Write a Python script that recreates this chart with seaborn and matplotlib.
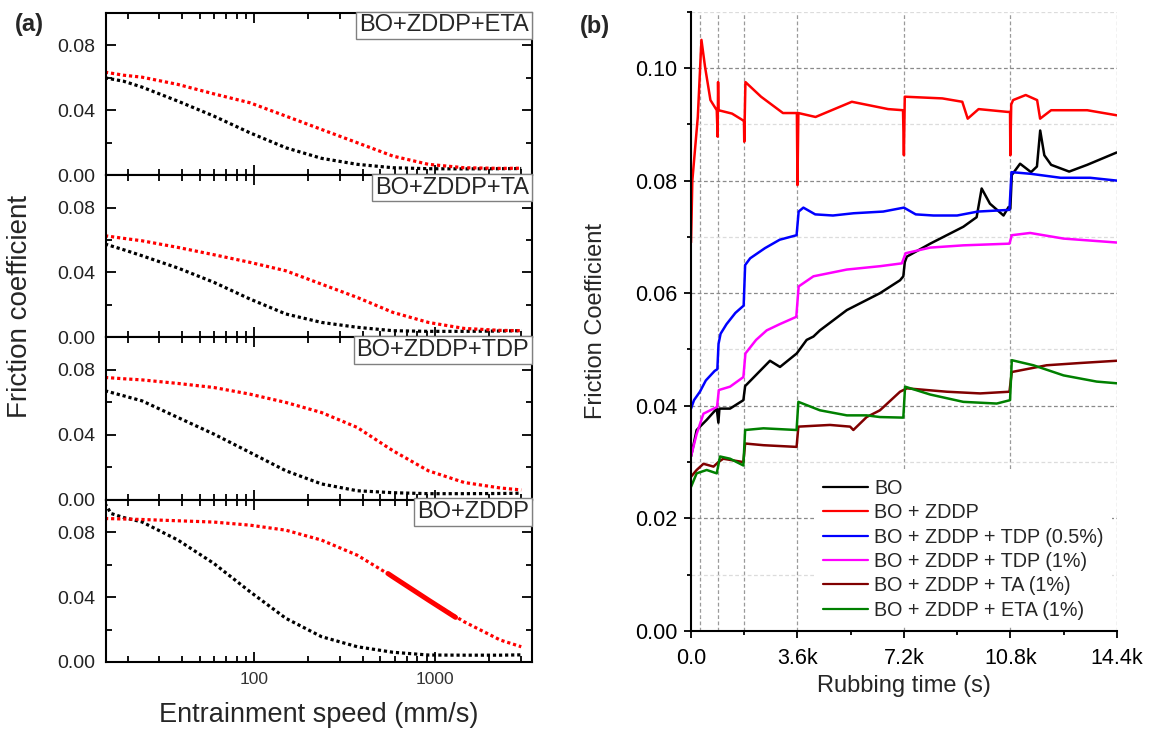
import matplotlib
matplotlib.use("Agg")
import matplotlib.pyplot as plt
import seaborn as sns
from matplotlib.ticker import FixedLocator, NullFormatter, FixedFormatter

# ---------------- data: panel (a) Stribeck curves ----------------
speed = [15, 19, 24, 38, 60, 95, 150, 236, 372, 585, 920, 1450, 2300, 3000]
panel_names = ["BO+ZDDP+ETA", "BO+ZDDP+TA", "BO+ZDDP+TDP", "BO+ZDDP"]

eta_black = [0.0599, 0.0578, 0.0542, 0.0455, 0.0363, 0.0260, 0.0168, 0.0103, 0.0066, 0.0045, 0.0039, 0.0038, 0.0039, 0.0040]
eta_red = [0.0634, 0.0615, 0.0603, 0.0558, 0.0500, 0.0445, 0.0363, 0.0281, 0.0199, 0.0117, 0.0066, 0.0045, 0.0041, 0.0042]
ta_black = [0.0575, 0.0540, 0.0503, 0.0427, 0.0339, 0.0236, 0.0144, 0.0092, 0.0062, 0.0041, 0.0037, 0.0037, 0.0039, 0.0041]
ta_red = [0.0626, 0.0610, 0.0595, 0.0554, 0.0509, 0.0462, 0.0410, 0.0328, 0.0246, 0.0154, 0.0092, 0.0055, 0.0043, 0.0041]
tdp_black = [0.0671, 0.0640, 0.0609, 0.0506, 0.0404, 0.0291, 0.0178, 0.0097, 0.0055, 0.0043, 0.0037, 0.0037, 0.0038, 0.0040]
tdp_red = [0.0753, 0.0745, 0.0738, 0.0716, 0.0691, 0.0650, 0.0599, 0.0537, 0.0445, 0.0302, 0.0178, 0.0106, 0.0072, 0.0060]
zddp_speed_black = [15, 16.2, 19, 24, 38, 60, 95, 150, 236, 372, 585, 920, 1450, 2300, 3000]
zddp_black = [0.0977, 0.0915, 0.0890, 0.0863, 0.0751, 0.0607, 0.0433, 0.0269, 0.0156, 0.0094, 0.0060, 0.0043, 0.0042, 0.0042, 0.0044]
zddp_red = [0.0884, 0.0881, 0.0878, 0.0870, 0.0862, 0.0843, 0.0812, 0.0751, 0.0658, 0.0525, 0.0382, 0.0248, 0.0135, 0.0094]
# densely sampled stretch of the BO+ZDDP red curve (drawn heavier in the source)
zddp_red_dense_speed = [550, 585, 920, 1300]
zddp_red_dense = [0.0545, 0.0525, 0.0382, 0.0275]

# ---------------- data: panel (b) friction vs rubbing time ----------------
stage_times = [300, 900, 1800, 3600, 7200, 10800, 14400]

bo_t = [0, 190, 530, 870, 925, 960, 1320, 1770, 1830, 2670, 3010, 3575, 3910, 4140, 4360, 5270, 6390,
        7070, 7180, 7230, 7300, 8090, 9210, 9660, 9830, 10110, 10570, 10740, 10800, 10850, 11130, 11500,
        11700, 11810, 11950, 12180, 12790, 13400, 14400]
bo_f = [0.031, 0.0357, 0.0375, 0.0395, 0.037, 0.0395, 0.0395, 0.041, 0.0435, 0.048, 0.0469, 0.0493, 0.0517,
        0.0523, 0.0534, 0.057, 0.060, 0.0623, 0.063, 0.0655, 0.0665, 0.0688, 0.0718, 0.0735, 0.0786, 0.0759,
        0.0738, 0.0753, 0.075, 0.081, 0.083, 0.0815, 0.0825, 0.0889, 0.0845, 0.0828, 0.0816, 0.0828, 0.085]

zddp_t = [0, 44, 229, 352, 474, 656, 870, 900, 915, 930, 1387, 1759, 1790, 1800, 1840, 2368, 3109, 3580,
          3600, 3630, 4212, 5439, 6667, 7170, 7200, 7230, 8501, 9175, 9358, 9727, 10707, 10790, 10800,
          10830, 10893, 11320, 11706, 11807, 12180, 13400, 14400]
zddp_f = [0.069, 0.080, 0.0913, 0.105, 0.1002, 0.0943, 0.0925, 0.0878, 0.0975, 0.0925, 0.0919, 0.0907,
          0.0905, 0.0869, 0.0975, 0.0949, 0.092, 0.092, 0.0792, 0.092, 0.0913, 0.094, 0.0927, 0.0925,
          0.0845, 0.0949, 0.0946, 0.094, 0.091, 0.0927, 0.0922, 0.0922, 0.0845, 0.0935, 0.0943, 0.0952,
          0.0943, 0.091, 0.0925, 0.0925, 0.0916]

tdp05_t = [0, 100, 300, 500, 800, 890, 930, 1000, 1200, 1500, 1780, 1830, 2000, 2500, 3000, 3570, 3640,
           3800, 4200, 4800, 5500, 6500, 7200, 7600, 8200, 9000, 9700, 10770, 10840, 11500, 12500, 13500, 14400]
tdp05_f = [0.0395, 0.041, 0.0425, 0.0445, 0.0462, 0.0465, 0.051, 0.0528, 0.0545, 0.0565, 0.0578, 0.065,
           0.0662, 0.068, 0.0695, 0.0703, 0.0745, 0.0752, 0.074, 0.0738, 0.0742, 0.0745, 0.0752, 0.074,
           0.0738, 0.0738, 0.0745, 0.0748, 0.0815, 0.0812, 0.0805, 0.0805, 0.080]

tdp1_t = [0, 190, 420, 880, 940, 1320, 1770, 1840, 2200, 2560, 3000, 3560, 3640, 4140, 5270, 6400, 7130,
          7260, 8090, 9210, 10770, 10850, 11470, 12600, 14400]
tdp1_f = [0.031, 0.035, 0.0386, 0.0398, 0.0428, 0.0434, 0.0451, 0.0493, 0.0517, 0.0534, 0.0545, 0.0558,
          0.0612, 0.063, 0.0642, 0.0648, 0.0653, 0.0671, 0.0681, 0.0685, 0.0688, 0.0703, 0.0707, 0.0697, 0.069]

ta_t = [0, 190, 420, 760, 925, 1090, 1770, 1830, 2450, 3570, 3630, 4700, 5380, 5490, 5940, 6390, 7070,
        7300, 8650, 9780, 10770, 10850, 12030, 13160, 14400]
ta_f = [0.0274, 0.0286, 0.0297, 0.0292, 0.030, 0.0306, 0.030, 0.0333, 0.033, 0.0327, 0.0363, 0.0366,
        0.0363, 0.0357, 0.038, 0.0392, 0.0425, 0.0431, 0.0425, 0.0422, 0.0425, 0.046, 0.0472, 0.0476, 0.048]

eta_t = [0, 190, 530, 870, 980, 1320, 1770, 1830, 2450, 3570, 3630, 4360, 5270, 5940, 6390, 7180, 7240,
         8090, 9210, 10340, 10790, 10850, 11580, 12600, 13720, 14400]
eta_f = [0.0256, 0.028, 0.0286, 0.028, 0.031, 0.0306, 0.0294, 0.0357, 0.036, 0.0357, 0.0407, 0.0392,
         0.0383, 0.0383, 0.038, 0.0379, 0.0434, 0.042, 0.0407, 0.0404, 0.041, 0.0481, 0.0472, 0.0454,
         0.0443, 0.044]

series_b = [
    ("BO", bo_t, bo_f, "#000000"),
    ("BO + ZDDP", zddp_t, zddp_f, "#ff0000"),
    ("BO + ZDDP + TDP (0.5%)", tdp05_t, tdp05_f, "#0000ff"),
    ("BO + ZDDP + TDP (1%)", tdp1_t, tdp1_f, "#ff00ff"),
    ("BO + ZDDP + TA (1%)", ta_t, ta_f, "#800000"),
    ("BO + ZDDP + ETA (1%)", eta_t, eta_f, "#008000"),
]

# ---------------- style ----------------
sns.set_style("ticks")
plt.rcParams["font.family"] = ["Liberation Sans", "DejaVu Sans"]
plt.rcParams["axes.linewidth"] = 1.5

fig = plt.figure(figsize=(11.5, 7.31), dpi=100)

# ---------------- panel (a) ----------------
L, W = 0.0922, 0.3704
B0, H = 0.0944, 0.22205
panel_data = [
    (speed, eta_black, speed, eta_red),
    (speed, ta_black, speed, ta_red),
    (speed, tdp_black, speed, tdp_red),
    (zddp_speed_black, zddp_black, speed, zddp_red),
]
dot_style = (0, (1, 0.9))
for i, (name, (xb, yb, xr, yr)) in enumerate(zip(panel_names, panel_data)):
    ax = fig.add_axes([L, B0 + (3 - i) * H, W, H])
    ax.set_xscale("log")
    sns.lineplot(x=xb, y=yb, color="black", lw=2.3, ls=dot_style, ax=ax)
    sns.lineplot(x=xr, y=yr, color="#ff0000", lw=2.3, ls=dot_style, ax=ax)
    if i == 3:
        sns.lineplot(x=zddp_red_dense_speed, y=zddp_red_dense, color="#ff0000", lw=3.6, ax=ax)
    ax.set_xlim(15.2, 3440)
    ax.set_ylim(0, 0.1)
    ax.set_xlabel("")
    ax.set_ylabel("")
    ax.yaxis.set_major_locator(FixedLocator([0.0, 0.04, 0.08]))
    ax.yaxis.set_major_formatter(FixedFormatter(["0.00", "0.04", "0.08"]))
    ax.yaxis.set_minor_locator(FixedLocator([0.02, 0.06]))
    ax.xaxis.set_major_locator(FixedLocator([100, 1000]))
    ax.xaxis.set_minor_locator(FixedLocator([20, 30, 40, 50, 60, 70, 80, 90,
                                             200, 300, 400, 500, 600, 700, 800, 900, 2000, 3000]))
    ax.xaxis.set_minor_formatter(NullFormatter())
    if i == 3:
        ax.xaxis.set_major_formatter(FixedFormatter(["100", "1000"]))
    else:
        ax.xaxis.set_major_formatter(NullFormatter())
    ax.tick_params(which="both", direction="in", top=True, right=True, width=1.3, colors="black")
    ax.tick_params(which="major", length=7)
    ax.tick_params(which="minor", length=4)
    ax.tick_params(axis="y", which="major", labelsize=14, pad=8, labelcolor="#222222")
    ax.tick_params(axis="x", which="major", labelsize=12.5, pad=7, labelcolor="#333333")
    for s in ax.spines.values():
        s.set_visible(True)
        s.set_linewidth(1.5)
        s.set_color("black")
    ax.text(0.993, 0.99, name, transform=ax.transAxes, ha="right", va="top", fontsize=17,
            bbox=dict(boxstyle="square,pad=0.12", facecolor="white", edgecolor="#808080", lw=1.0), zorder=5)

fig.text(19.6 / 1150, 1 - 306 / 731, "Friction coefficient", rotation=90, ha="center", va="center", fontsize=20)
fig.text(319 / 1150, 1 - 715 / 731, "Entrainment speed (mm/s)", ha="center", va="center", fontsize=19.5)
fig.text(29.5 / 1150, 1 - 25 / 731, "(a)", ha="center", va="center", fontsize=17, fontweight="bold")

# ---------------- panel (b) ----------------
axb = fig.add_axes([0.6009, 0.1368, 0.3702, 0.8472])
axb.set_axisbelow(True)
for xv in stage_times:
    axb.axvline(xv, color="#9a9a9a", lw=0.9, ls=(0, (3, 2)), zorder=0)
for label, t, f, c in series_b:
    sns.lineplot(x=t, y=f, color=c, lw=1.8, label=label, ax=axb, legend=False)
axb.set_xlim(0, 14400)
axb.set_ylim(0, 0.11)
axb.set_xlabel("")
axb.set_ylabel("")
axb.xaxis.set_major_locator(FixedLocator([0, 3600, 7200, 10800, 14400]))
axb.xaxis.set_major_formatter(FixedFormatter(["0.0", "3.6k", "7.2k", "10.8k", "14.4k"]))
axb.xaxis.set_minor_locator(FixedLocator([1800, 5400, 9000, 12600]))
axb.yaxis.set_major_locator(FixedLocator([0.0, 0.02, 0.04, 0.06, 0.08, 0.10]))
axb.yaxis.set_major_formatter(FixedFormatter(["0.00", "0.02", "0.04", "0.06", "0.08", "0.10"]))
axb.yaxis.set_minor_locator(FixedLocator([0.01, 0.03, 0.05, 0.07, 0.09, 0.11]))
axb.yaxis.grid(True, which="major", color="#8a8a8a", lw=0.9, ls=(0, (3, 2)))
axb.yaxis.grid(True, which="minor", color="#dcdcdc", lw=0.9, ls=(0, (3, 2)))
axb.xaxis.grid(False)
axb.spines["top"].set_visible(False)
axb.spines["right"].set_visible(False)
for s in ("left", "bottom"):
    axb.spines[s].set_linewidth(1.5)
    axb.spines[s].set_color("black")
axb.tick_params(which="both", direction="out", width=1.3, colors="black")
axb.tick_params(which="major", length=5, labelsize=15.5, pad=5)
axb.tick_params(which="minor", length=3)
axb.tick_params(axis="x", which="major", pad=7)

leg = axb.legend(loc="upper left", bbox_to_anchor=(815 / 1150, 1 - 471 / 731),
                 bbox_transform=fig.transFigure, fontsize=14.2, frameon=True, fancybox=False,
                 edgecolor="none", facecolor="white", framealpha=1.0, borderpad=0.4,
                 handlelength=2.3, handletextpad=0.3, labelspacing=0.27, borderaxespad=0)
for ln in leg.get_lines():
    ln.set_linewidth(1.6)

fig.text(904 / 1150, 1 - 686 / 731, "Rubbing time (s)", ha="center", va="center", fontsize=17)
fig.text(596 / 1150, 1 - 321 / 731, "Friction Coefficient", rotation=90, ha="center", va="center", fontsize=17)
fig.text(595 / 1150, 1 - 27 / 731, "(b)", ha="center", va="center", fontsize=17, fontweight="bold")

fig.savefig("out.png", dpi=100)
